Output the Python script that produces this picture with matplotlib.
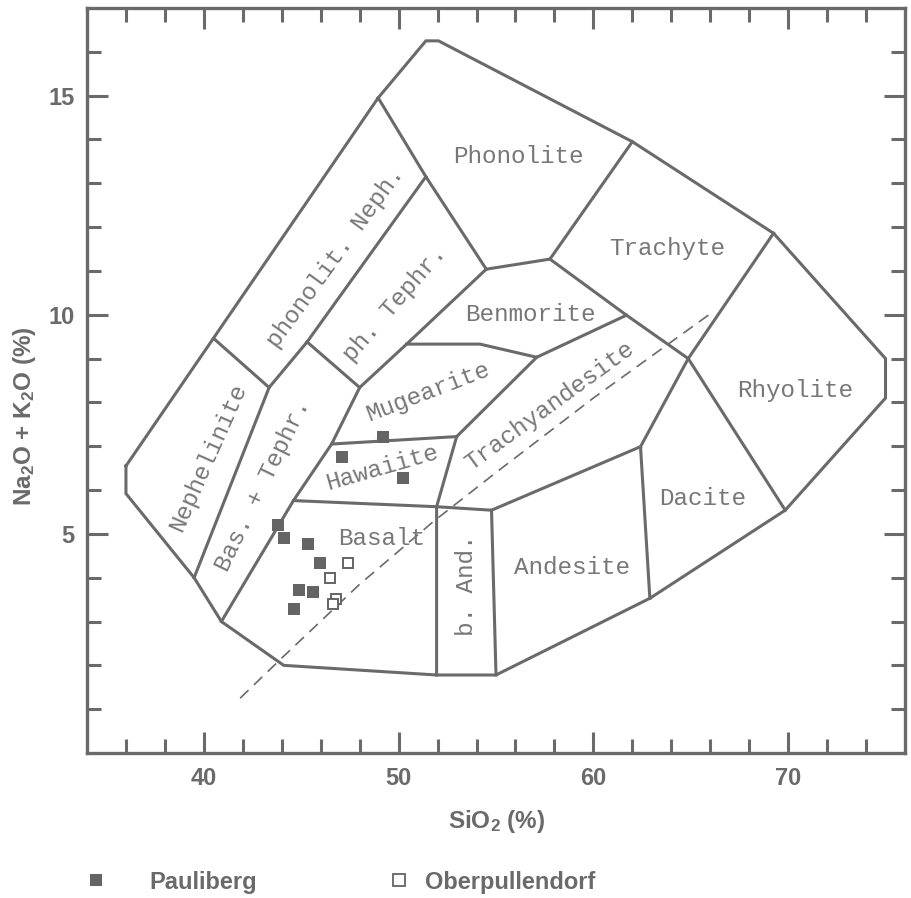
import numpy as np
import matplotlib
matplotlib.use("Agg")
import matplotlib.pyplot as plt
from matplotlib.lines import Line2D

plt.rcParams['font.family'] = ['Liberation Sans', 'DejaVu Sans']
plt.rcParams['font.weight'] = 'bold'
plt.rcParams['axes.labelweight'] = 'bold'
plt.rcParams['mathtext.fontset'] = 'custom'
plt.rcParams['mathtext.rm'] = 'Liberation Sans:bold'
plt.rcParams['mathtext.bf'] = 'Liberation Sans:bold'
plt.rcParams['mathtext.default'] = 'bf'

GREY = '#6a6a6a'
TXT = '#777777'

# samples (SiO2 wt%, Na2O+K2O wt%)
pauli_si = [49.2, 47.1, 50.25, 43.8, 44.1, 45.35, 45.95, 44.9, 45.6, 44.65]
pauli_alk = [7.22, 6.75, 6.27, 5.2, 4.9, 4.78, 4.34, 3.72, 3.68, 3.28]
ober_si = [47.4, 46.5, 46.8, 46.65]
ober_alk = [4.33, 4.0, 3.51, 3.4]

# TAS field boundaries (Cox et al.), vertices as (SiO2, alkalis)
outline = [(36.0, 6.55), (36.0, 5.92), (39.5, 4.0), (40.9, 3.0), (44.1, 2.0),
           (51.95, 1.78), (55.0, 1.78), (62.9, 3.53), (69.85, 5.54), (75.0, 8.1),
           (75.0, 9.0), (69.25, 11.86), (62.0, 13.95), (52.05, 16.25),
           (51.4, 16.25), (48.95, 14.95), (36.0, 6.55)]
boundaries = [
    [(40.5, 9.46), (43.35, 8.34)],
    [(39.5, 4.0), (43.35, 8.34), (45.3, 9.38), (51.4, 13.15)],
    [(48.95, 14.95), (51.4, 13.15), (54.5, 11.04)],
    [(45.3, 9.38), (48.0, 8.34)],
    [(40.9, 3.0), (44.6, 5.76), (46.56, 7.05), (48.0, 8.34), (50.41, 9.33), (54.5, 11.04)],
    [(54.5, 11.04), (57.77, 11.27), (62.0, 13.95)],
    [(57.77, 11.27), (61.7, 9.99), (64.87, 9.0), (69.85, 5.54)],
    [(69.25, 11.86), (64.87, 9.0), (62.42, 6.99), (62.9, 3.53)],
    [(50.41, 9.33), (54.18, 9.33), (57.09, 9.03), (61.7, 9.99)],
    [(57.09, 9.03), (52.98, 7.22), (51.95, 5.62), (51.95, 1.78)],
    [(46.56, 7.05), (52.98, 7.22)],
    [(44.6, 5.76), (51.95, 5.62), (54.77, 5.54), (62.42, 6.99)],
    [(54.77, 5.54), (55.0, 1.78)],
]
# alkaline / subalkaline divide
divide_si = [41.86, 44.08, 48.0, 51.78, 55.0, 60.0, 66.15]
divide_alk = [1.25, 2.2, 3.85, 5.28, 6.4, 8.1, 10.07]

field_names = ['Phonolite', 'Trachyte', 'Benmorite', 'Rhyolite', 'Dacite', 'Andesite',
               'b. And.', 'Basalt', 'Hawaiite', 'Mugearite', 'Trachyandesite',
               'Nephelinite', 'Bas. + Tephr.', 'phonolit. Neph.', 'ph. Tephr.']
field_x = [56.13, 63.78, 56.75, 70.35, 65.63, 58.89, 53.46, 49.12, 49.13, 51.52, 57.73,
           40.23, 43.05, 46.77, 49.81]
field_y = [13.62, 11.52, 10.0, 8.27, 5.8, 4.23, 3.83, 4.9, 6.5, 8.25, 7.92,
           6.75, 6.11, 11.32, 10.26]
field_rot = [0, 0, 0, 0, 0, 0, 90, 0, 16, 21, 36, 66, 64, 54, 49]

fig = plt.figure(figsize=(9.11, 8.98), dpi=100)
ax = fig.add_axes([87 / 911, 1 - 753 / 898, 818 / 911, 745 / 898])

ox, oy = zip(*outline)
ax.plot(ox, oy, color=GREY, lw=2.2, solid_joinstyle='miter')
for seg in boundaries:
    sx, sy = zip(*seg)
    ax.plot(sx, sy, color=GREY, lw=2.2, solid_joinstyle='miter')
ax.plot(divide_si, divide_alk, color=GREY, lw=1.2, ls=(0, (7, 4.5)))

for name, x, y, r in zip(field_names, field_x, field_y, field_rot):
    ax.text(x, y, name, ha='center', va='center', rotation=r, rotation_mode='anchor',
            family='Liberation Mono', weight='normal', fontsize=17.5, color=TXT)

ax.plot(pauli_si, pauli_alk, ls='none', marker='s', ms=8.6, color='#646464', mew=0)
ax.plot(ober_si, ober_alk, ls='none', marker='s', ms=7.8, mfc='white', mec='#646464', mew=1.4)

ax.set_xlim(34, 76)
ax.set_ylim(0, 17)
ax.set_xticks([40, 50, 60, 70])
ax.set_xticks(np.arange(36, 76, 2), minor=True)
ax.set_yticks([5, 10, 15])
ax.set_yticks(np.arange(1, 17), minor=True)
ax.tick_params(which='both', direction='in', top=True, right=True, width=2.2, color=GREY)
ax.tick_params(which='major', length=15)
ax.tick_params(which='minor', length=10)
ax.tick_params(axis='x', labelsize=17, labelcolor=GREY, pad=10)
ax.tick_params(axis='y', labelsize=17, labelcolor=GREY, pad=9)
for sp in ax.spines.values():
    sp.set_linewidth(2.4)
    sp.set_color(GREY)

ax.set_xlabel('SiO$_2$ (%)', fontsize=17.5, color=GREY)
ax.xaxis.set_label_coords(0.501, -0.074)
ax.set_ylabel('Na$_2$O + K$_2$O (%)', fontsize=17.5, color=GREY)
ax.yaxis.set_label_coords(-0.06, 0.452)

fs = 17
h1 = Line2D([], [], ls='none', marker='s', ms=9, color='#646464', mew=0)
h2 = Line2D([], [], ls='none', marker='s', ms=8, mfc='white', mec='#646464', mew=1.3)
yl = 1 - 882 / 898
fig.legend(handles=[h1], labels=['Pauliberg'], loc='center left',
           bbox_to_anchor=(84.2 / 911, yl), frameon=False, handlelength=1,
           handletextpad=1.74, borderpad=0, borderaxespad=0,
           prop=dict(weight='bold', size=fs), labelcolor=GREY)
fig.legend(handles=[h2], labels=['Oberpullendorf'], loc='center left',
           bbox_to_anchor=(387.2 / 911, yl), frameon=False, handlelength=1,
           handletextpad=0.6, borderpad=0, borderaxespad=0,
           prop=dict(weight='bold', size=fs), labelcolor=GREY)

fig.savefig('out.png', dpi=100)
